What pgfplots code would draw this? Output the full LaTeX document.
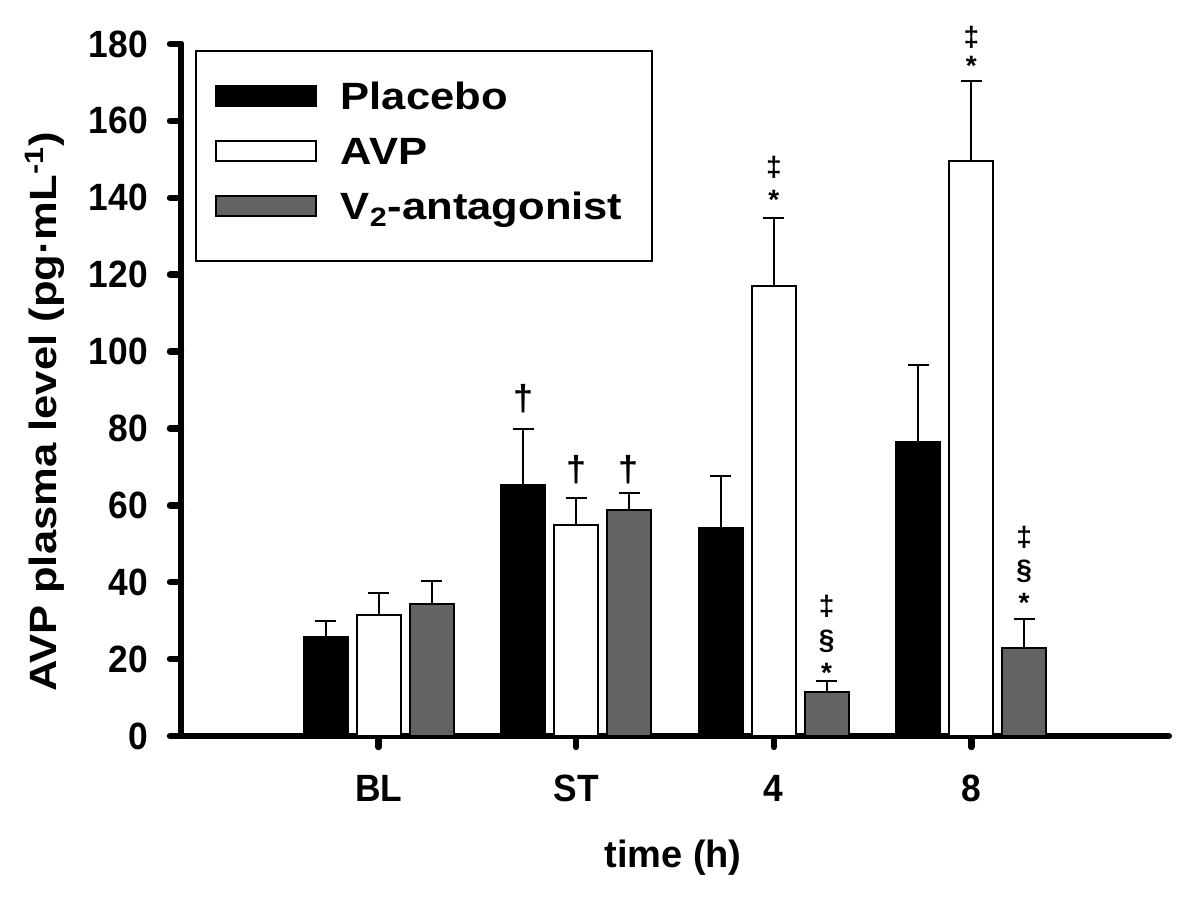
\documentclass[border=0pt]{standalone}
\usepackage{pgfplots}
\pgfplotsset{compat=1.18}
\usepackage{pgfplotstable}
\usepackage{fontspec}
\setmainfont{Liberation Sans}
\newfontfamily\widefont[FakeStretch=1.146]{Liberation Sans}
\newfontfamily\narrowfont[FakeStretch=0.93]{Liberation Sans}
\definecolor{bargray}{RGB}{99,99,99}
\newcommand{\F}{\fontsize{19}{22}\selectfont\bfseries}
\newcommand{\Fw}{\widefont\fontsize{19}{22}\selectfont\bfseries}
\newcommand{\Fn}{\narrowfont\fontsize{19}{22}\selectfont\bfseries}
\newcommand{\Fd}{\fontsize{18}{20}\selectfont\bfseries}
\newcommand{\Fs}{\fontsize{14}{16}\selectfont\bfseries}
\tikzset{ann/.style={inner sep=0pt, anchor=center}}
\pgfplotstableread{
x y e
0 25.8 4.2
1 65.2 14.7
2 54.0 13.6
3 76.5 20.0
}\placebo
\pgfplotstableread{
x y e
0 31.5 5.8
1 54.9 7.1
2 117.1 17.7
3 149.5 20.9
}\avp
\pgfplotstableread{
x y e
0 34.3 6.0
1 58.7 4.4
2 11.4 3.0
3 22.8 7.6
}\vtwo
\begin{document}
\begin{tikzpicture}
\path[use as bounding box] (-90.5pt,-85pt) rectangle (509.5pt,368pt);
\begin{axis}[
  scale only axis, width=494pt, height=346pt,
  xmin=-1, xmax=4, ymin=0, ymax=180,
  clip=false,
  axis x line=bottom, axis y line=left,
  axis line style={-, line width=3pt, line cap=round},
  ytick={0,20,...,180}, xtick={0,1,2,3}, xticklabels={BL,ST,4,8},
  tick align=outside, major tick length=5.5pt,
  tick style={line width=3.2pt, line cap=round, black},
  major tick style={line width=3.2pt, line cap=round, black},
  minor tick num=0,
  /pgf/number format/assume math mode=true,
  tick label style={font=\Fn},
  yticklabel style={anchor=east, xshift=-7.5pt},
  xticklabel style={anchor=base, yshift=-27pt},
  xlabel={time (h)},
  ylabel={AVP plasma level (pg·mL\textsuperscript{-1})},
  xlabel style={font=\F, at={(axis description cs:0.498,-0.176)}, anchor=center},
  ylabel style={font=\Fw, at={(axis description cs:-0.1377,0.468)}, anchor=center},
  ybar, bar width=22pt,
  legend style={at={(rel axis cs:0.0142,0.991)}, anchor=north west, draw=black, line width=0.75pt,
    font=\Fw, inner xsep=9.5pt, inner ysep=15.5pt, row sep=8.5pt,
    nodes={inner sep=0pt, text height=14pt, text depth=5pt, text width=146pt, align=left}},
  legend cell align=left,
]
\addplot[bar shift=-26.5pt, fill=black, draw=black, line width=1pt,
  legend image code/.code={\draw[fill=black, draw=black, line width=1pt] (0pt,-2.5pt) rectangle (50pt,7.5pt); \path (62pt,0pt);},
  error bars/.cd, y dir=plus, y explicit,
  error bar style={line width=1pt, black},
  error mark options={rotate=90, mark size=5.25pt, line width=1pt, black}]
  table[x=x, y=y, y error=e] {\placebo};
\addlegendentry{Placebo}
\addplot[bar shift=0pt, fill=white, draw=black, line width=1pt,
  legend image code/.code={\draw[fill=white, draw=black, line width=1pt] (0pt,-2.5pt) rectangle (50pt,7.5pt); \path (62pt,0pt);},
  error bars/.cd, y dir=plus, y explicit,
  error bar style={line width=1pt, black},
  error mark options={rotate=90, mark size=5.25pt, line width=1pt, black}]
  table[x=x, y=y, y error=e] {\avp};
\addlegendentry{AVP}
\addplot[bar shift=26.5pt, fill=bargray, draw=black, line width=1pt,
  legend image code/.code={\draw[fill=bargray, draw=black, line width=1pt] (0pt,-2.5pt) rectangle (50pt,7.5pt); \path (62pt,0pt);},
  error bars/.cd, y dir=plus, y explicit,
  error bar style={line width=1pt, black},
  error mark options={rotate=90, mark size=5.25pt, line width=1pt, black}]
  table[x=x, y=y, y error=e] {\vtwo};
\addlegendentry{V\textsubscript{2}-antagonist}
% annotations
\node[ann, font=\Fd] at (axis cs:0.733,87.7) {†};
\node[ann, font=\Fd] at (axis cs:1,69.2) {†};
\node[ann, font=\Fd] at (axis cs:1.267,69.2) {†};
\node[ann, font=\Fs] at (axis cs:2,148) {‡};
\node[ann, font=\Fs] at (axis cs:2,139.4) {*};
\node[ann, font=\Fs] at (axis cs:3,181.8) {‡};
\node[ann, font=\Fs] at (axis cs:3,174.3) {*};
\node[ann, font=\Fs] at (axis cs:2.267,33.8) {‡};
\node[ann, font=\Fs] at (axis cs:2.267,24.7) {§};
\node[ann, font=\Fs] at (axis cs:2.267,16.3) {*};
\node[ann, font=\Fs] at (axis cs:3.267,51.8) {‡};
\node[ann, font=\Fs] at (axis cs:3.267,42.9) {§};
\node[ann, font=\Fs] at (axis cs:3.267,34.6) {*};
\end{axis}
\end{tikzpicture}
\end{document}
